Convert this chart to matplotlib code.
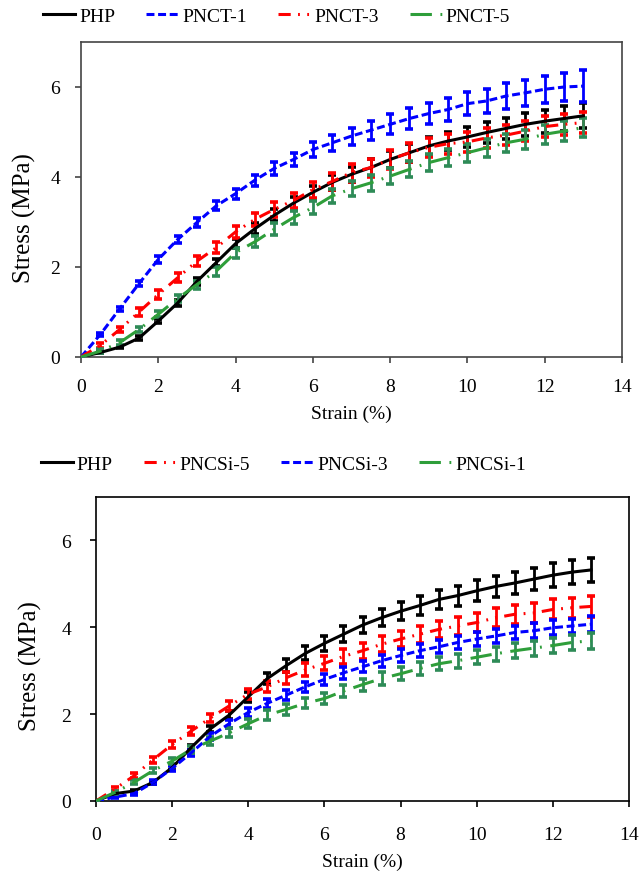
import matplotlib
matplotlib.use("Agg")
import matplotlib.pyplot as plt
from matplotlib.lines import Line2D

plt.rcParams["font.family"] = ["Liberation Serif", "DejaVu Serif"]
plt.rcParams["font.size"] = 14

# ---------------------------------------------------------
# DATA
# ---------------------------------------------------------
strain = [0, 0.5, 1, 1.5, 2, 2.5, 3, 3.5, 4, 4.5, 5, 5.5, 6, 6.5, 7,
          7.5, 8, 8.5, 9, 9.5, 10, 10.5, 11, 11.5, 12, 12.5, 13]

# top panel: carbon nanotube series
php_a = [0, 0.10, 0.22, 0.42, 0.80, 1.20, 1.68, 2.10, 2.52, 2.85, 3.15, 3.42, 3.66, 3.88,
         4.06, 4.21, 4.39, 4.54, 4.69, 4.80, 4.89, 4.99, 5.08, 5.17, 5.24, 5.30, 5.36]
pnct1 = [0, 0.50, 1.07, 1.63, 2.17, 2.61, 2.99, 3.36, 3.63, 3.93, 4.19, 4.39, 4.61, 4.76,
         4.91, 5.04, 5.17, 5.30, 5.41, 5.50, 5.63, 5.69, 5.80, 5.87, 5.95, 6.00, 6.02]
pnct3 = [0, 0.26, 0.61, 1.00, 1.39, 1.76, 2.13, 2.43, 2.78, 3.06, 3.28, 3.48, 3.72, 3.90,
         4.10, 4.21, 4.39, 4.54, 4.66, 4.74, 4.78, 4.87, 4.93, 5.02, 5.12, 5.17, 5.21]
pnct5 = [0, 0.13, 0.32, 0.61, 0.95, 1.30, 1.61, 1.91, 2.32, 2.56, 2.84, 3.10, 3.32, 3.58,
         3.74, 3.87, 4.02, 4.17, 4.32, 4.43, 4.54, 4.65, 4.76, 4.84, 4.95, 5.02, 5.10]

err_php_a = [0, 0.02, 0.03, 0.04, 0.05, 0.06, 0.07, 0.08, 0.10, 0.12, 0.13, 0.14, 0.15, 0.16,
             0.17, 0.18, 0.19, 0.20, 0.20, 0.21, 0.22, 0.23, 0.24, 0.25, 0.26, 0.27, 0.28]
err_pnct1 = [0, 0.04, 0.05, 0.06, 0.07, 0.08, 0.09, 0.10, 0.11, 0.12, 0.14, 0.15, 0.17, 0.18,
             0.19, 0.21, 0.22, 0.23, 0.24, 0.25, 0.26, 0.27, 0.28, 0.29, 0.30, 0.31, 0.36]
err_pnct3 = [0, 0.05, 0.06, 0.08, 0.09, 0.10, 0.11, 0.12, 0.14, 0.15, 0.16, 0.17, 0.18, 0.19,
             0.20, 0.20, 0.21, 0.21, 0.21, 0.22, 0.22, 0.22, 0.22, 0.23, 0.23, 0.23, 0.24]
err_pnct5 = [0, 0.04, 0.05, 0.06, 0.07, 0.08, 0.09, 0.10, 0.11, 0.12, 0.13, 0.14, 0.15, 0.16,
             0.17, 0.17, 0.18, 0.18, 0.19, 0.19, 0.20, 0.20, 0.20, 0.21, 0.21, 0.22, 0.22]

# bottom panel: silica series
php_b = [0, 0.17, 0.23, 0.43, 0.77, 1.23, 1.66, 1.98, 2.40, 2.82, 3.12, 3.40, 3.63, 3.84,
         4.05, 4.22, 4.37, 4.50, 4.64, 4.73, 4.84, 4.94, 5.02, 5.11, 5.20, 5.27, 5.32]
pncsi5 = [0, 0.28, 0.58, 0.95, 1.30, 1.61, 1.91, 2.19, 2.46, 2.63, 2.84, 3.02, 3.17, 3.33,
          3.46, 3.61, 3.73, 3.84, 3.95, 4.03, 4.11, 4.22, 4.30, 4.33, 4.41, 4.45, 4.48]
pncsi3 = [0, 0.09, 0.17, 0.43, 0.75, 1.11, 1.49, 1.78, 2.04, 2.25, 2.44, 2.63, 2.80, 2.95,
          3.09, 3.23, 3.35, 3.46, 3.55, 3.65, 3.73, 3.80, 3.88, 3.92, 3.99, 4.03, 4.07]
pncsi1 = [0, 0.20, 0.43, 0.70, 0.92, 1.19, 1.38, 1.57, 1.78, 1.98, 2.11, 2.25, 2.36, 2.53,
          2.68, 2.82, 2.93, 3.05, 3.16, 3.23, 3.31, 3.39, 3.46, 3.52, 3.58, 3.65, 3.69]

err_php_b = [0, 0.03, 0.03, 0.04, 0.05, 0.06, 0.07, 0.09, 0.11, 0.13, 0.15, 0.16, 0.17, 0.18,
             0.19, 0.20, 0.21, 0.22, 0.22, 0.23, 0.24, 0.25, 0.25, 0.26, 0.27, 0.28, 0.28]
err_pncsi5 = [0, 0.05, 0.06, 0.07, 0.08, 0.09, 0.10, 0.11, 0.12, 0.13, 0.14, 0.15, 0.16, 0.17,
              0.18, 0.19, 0.19, 0.20, 0.20, 0.21, 0.21, 0.22, 0.22, 0.22, 0.23, 0.23, 0.24]
err_pncsi3 = [0, 0.03, 0.04, 0.05, 0.06, 0.07, 0.08, 0.09, 0.10, 0.10, 0.11, 0.12, 0.12, 0.13,
              0.13, 0.14, 0.14, 0.15, 0.15, 0.15, 0.16, 0.16, 0.16, 0.17, 0.17, 0.17, 0.18]
err_pncsi1 = [0, 0.04, 0.05, 0.06, 0.07, 0.08, 0.09, 0.10, 0.11, 0.11, 0.12, 0.12, 0.13, 0.13,
              0.14, 0.14, 0.15, 0.15, 0.15, 0.16, 0.16, 0.16, 0.17, 0.17, 0.17, 0.18, 0.18]

# line styles
BLACK, BLUE, RED, GREEN, GREEN_ERR = "#000000", "#0000FF", "#FF0000", "#2E9E3A", "#2E8B57"
SOLID = "-"
DASH = (0, (2.6, 1.2))
DASH_DOT_DOT = (0, (4.0, 2.4, 0.6, 2.4, 0.6, 2.4))
LONG_DASH_DOT = (0, (7.0, 2.8, 0.6, 2.8))


def draw_panel(ax, series, frame_color, pad):
    handles = []
    for label, y, err, color, ecolor, ls in series:
        ax.errorbar(strain, y, yerr=err, fmt="none", ecolor=ecolor,
                    elinewidth=2.0, capsize=3.2, capthick=2.6, zorder=3)
        ax.plot(strain, y, color=color, linestyle=ls, linewidth=2.2, zorder=4)
        handles.append(Line2D([], [], color=color, linestyle=ls, linewidth=2.2, label=label))

    ax.set_xlim(0, 14)
    ax.set_ylim(0, 7)
    ax.set_xticks(range(0, 15, 2))
    ax.set_yticks([0, 2, 4, 6])
    ax.tick_params(direction="out", length=4, width=1.2, color=frame_color,
                   labelsize=14, pad=pad)
    for sp in ax.spines.values():
        sp.set_color(frame_color)
        sp.set_linewidth(1.2)
    ax.set_ylabel("Stress (MPa)", fontsize=18)
    return handles


fig = plt.figure(figsize=(6.44, 8.79), dpi=100)

# ---------------------------------------------------------
# TOP PANEL
# ---------------------------------------------------------
ax1 = fig.add_axes([81 / 644, 1 - 358 / 879, 541 / 644, 315 / 879])
h1 = draw_panel(ax1, [
    ("PHP", php_a, err_php_a, BLACK, BLACK, SOLID),
    ("PNCT-1", pnct1, err_pnct1, BLUE, BLUE, DASH),
    ("PNCT-3", pnct3, err_pnct3, RED, RED, DASH_DOT_DOT),
    ("PNCT-5", pnct5, err_pnct5, GREEN, GREEN_ERR, LONG_DASH_DOT),
], "#444444", pad=11)
ax1.set_xlabel("Strain (%)", fontsize=14, labelpad=7)
ax1.yaxis.set_label_coords(-0.083, 0.444)
fig.legend(handles=h1, loc="center left", bbox_to_anchor=(0.067, 1 - 17 / 879),
           ncol=4, frameon=False, fontsize=14, handlelength=1.65,
           handletextpad=0.2, columnspacing=1.6, borderaxespad=0, borderpad=0)

# ---------------------------------------------------------
# BOTTOM PANEL
# ---------------------------------------------------------
ax2 = fig.add_axes([96 / 644, 1 - 802 / 879, 533 / 644, 304 / 879])
h2 = draw_panel(ax2, [
    ("PHP", php_b, err_php_b, BLACK, BLACK, SOLID),
    ("PNCSi-5", pncsi5, err_pncsi5, RED, RED, DASH_DOT_DOT),
    ("PNCSi-3", pncsi3, err_pncsi3, BLUE, BLUE, DASH),
    ("PNCSi-1", pncsi1, err_pncsi1, GREEN, GREEN_ERR, LONG_DASH_DOT),
], "#000000", pad=14)
ax2.set_xlabel("Strain (%)", fontsize=14, labelpad=7)
ax2.yaxis.set_label_coords(-0.102, 0.447)
fig.legend(handles=h2, loc="center left", bbox_to_anchor=(0.063, 1 - 465 / 879),
           ncol=4, frameon=False, fontsize=14, handlelength=1.65,
           handletextpad=0.2, columnspacing=1.6, borderaxespad=0, borderpad=0)

fig.savefig("out.png", dpi=100)
plt.close(fig)
